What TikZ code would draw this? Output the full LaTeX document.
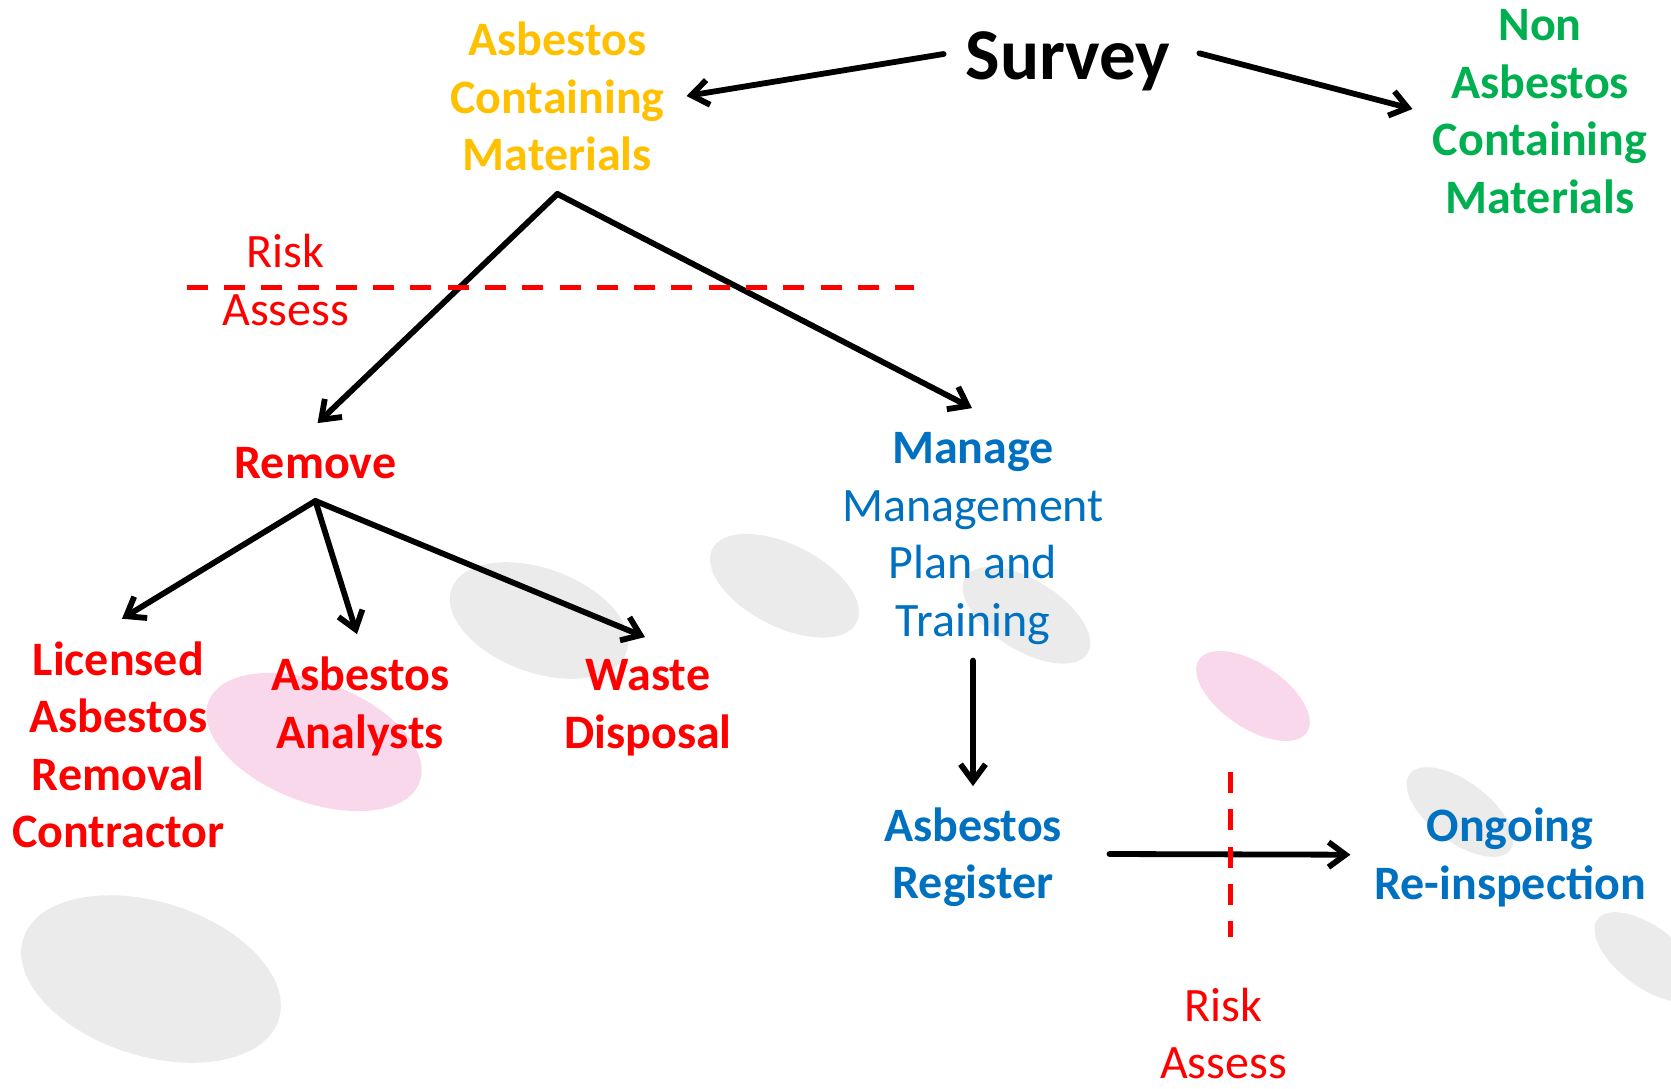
\documentclass[tikz,border=0pt]{standalone}
\usepackage{fontspec}
\setmainfont{Carlito}
\usetikzlibrary{arrows.meta}
\definecolor{acmorange}{RGB}{255,192,0}
\definecolor{nacmgreen}{RGB}{0,176,80}
\definecolor{remred}{RGB}{255,0,0}
\definecolor{manblue}{RGB}{0,112,192}
\definecolor{bggray}{RGB}{235,235,235}
\definecolor{bgpink}{RGB}{249,216,236}
\newcommand\ls{\rule[-0.268em]{0pt}{1.168em}}
\begin{document}
\begin{tikzpicture}[x=1pt,y=-1pt,
  lbl/.style={inner sep=0pt,outer sep=0pt,align=center,font=\fontsize{48}{57.5}\selectfont},
  bold/.style={lbl,font=\fontsize{48}{57.5}\selectfont\bfseries},
  arr/.style={draw=black,line width=5.8pt,line cap=round,-{Straight Barb[length=17pt,width=25pt]}},
  rdash/.style={draw=remred,line width=5pt,dash pattern=on 21pt off 16.3pt},
  gblob/.style={fill=bggray},
  pblob/.style={fill=bgpink}]
\useasboundingbox (0,0) rectangle (1671,1088);
\clip (0,0) rectangle (1671,1088);
% background blobs
\fill[gblob,rotate around={-17.5:(151,979)}] (151,979) ellipse [x radius=134pt,y radius=77pt];
\fill[pblob,rotate around={-21:(314,742)}] (314,742) ellipse [x radius=113pt,y radius=60pt];
\fill[gblob,rotate around={-20:(539,620.5)}] (539,620.5) ellipse [x radius=93pt,y radius=52pt];
\fill[gblob,rotate around={-27:(784.5,585.7)}] (784.5,585.7) ellipse [x radius=81pt,y radius=41pt];
\fill[gblob,rotate around={-32:(1026.5,615.3)}] (1026.5,615.3) ellipse [x radius=72pt,y radius=35pt];
\fill[pblob,rotate around={-34:(1253,696)}] (1253,696) ellipse [x radius=65pt,y radius=32pt];
\fill[gblob,rotate around={-37:(1460,812)}] (1460,812) ellipse [x radius=63pt,y radius=30pt];
\fill[gblob,rotate around={-37:(1648,957)}] (1648,957) ellipse [x radius=63pt,y radius=30pt];
% labels
\node[bold,font=\fontsize{73}{87}\selectfont\bfseries] (survey) at (1068,56) {\ls Survey};
\node[bold,text=acmorange] (acm) at (557.4,98) {\ls Asbestos\\\ls Containing\\\ls Materials};
\node[bold,text=nacmgreen] (nacm) at (1540,112) {\ls Non\\\ls Asbestos\\\ls Containing\\\ls Materials};
\node[lbl,text=remred] (risk1) at (285.6,281.3) {\ls Risk\\\ls Assess};
\node[bold,text=remred] (remove) at (315.4,463.6) {\ls Remove};
\node[lbl,text=manblue] (manage) at (973,535) {\ls\textbf{Manage}\\\ls Management\\\ls Plan and\\\ls Training};
\node[bold,text=remred] (lic) at (118.3,746.5) {\ls Licensed\\\ls Asbestos\\\ls Removal\\\ls Contractor};
\node[bold,text=remred] (ana) at (360.2,704.4) {\ls Asbestos\\\ls Analysts};
\node[bold,text=remred] (waste) at (648,704.4) {\ls Waste\\\ls Disposal};
\node[bold,text=manblue] (reg) at (973,854.7) {\ls Asbestos\\\ls Register};
\node[bold,text=manblue] (ong) at (1510,855.4) {\ls Ongoing\\\ls Re-inspection};
\node[lbl,text=remred] (risk2) at (1223.4,1035) {\ls Risk\\\ls Assess};
% connectors
\draw[arr] ([shift={(-22pt,2pt)}]survey.west) -- ([shift={(22pt,2pt)}]acm.east);
\draw[arr] ([shift={(29pt,2.7pt)}]survey.east) -- ([shift={(-20.4pt,3pt)}]nacm.west);
\draw[arr] ([yshift=-10.4pt]acm.south) -- ([shift={(2.2pt,12.5pt)}]remove.north);
\draw[arr] ([yshift=-10.4pt]acm.south) -- ([shift={(-1pt,12.6pt)}]manage.north);
\draw[arr] ([yshift=-9.3pt]remove.south) -- ([shift={(3.7pt,13.5pt)}]lic.north);
\draw[arr] ([yshift=-9.3pt]remove.south) -- ([shift={(-3.2pt,13.5pt)}]ana.north);
\draw[arr] ([yshift=-9.3pt]remove.south) -- ([shift={(-3pt,10.5pt)}]waste.north);
\draw[arr] ([yshift=-11.3pt]manage.south) -- ([yshift=11.8pt]reg.north);
\draw[arr] ([shift={(47.5pt,0.7pt)}]reg.east) -- ([shift={(-23.8pt,0.7pt)}]ong.west);
% risk assessment dashed lines
\draw[rdash] (186.5,287) -- (914,287);
\draw[rdash] (1230.5,772) -- (1230.5,937);
\end{tikzpicture}
\end{document}
